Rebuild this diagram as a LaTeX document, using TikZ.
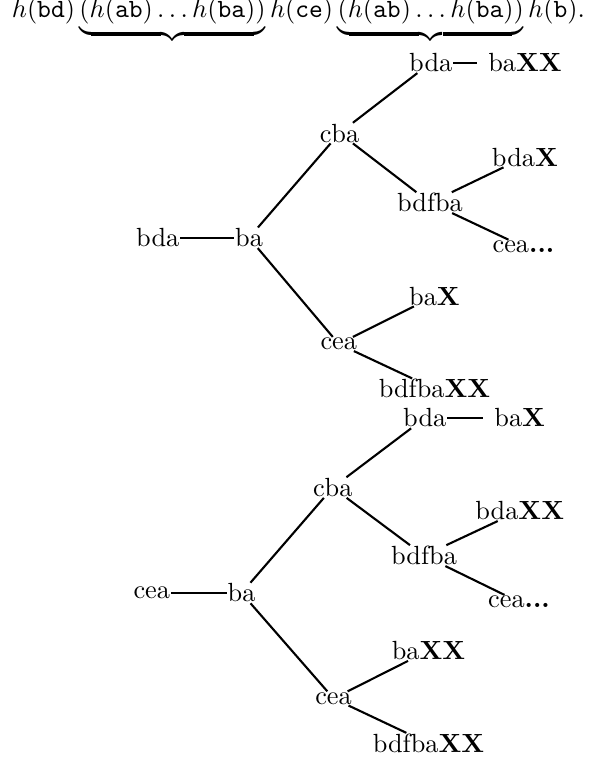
\documentclass[tikz,border=0pt]{standalone}
\usepackage{amsmath}
\begin{document}
\begin{tikzpicture}[thick]
\tikzstyle{every node}=[inner sep=0pt]
\useasboundingbox (0,0) rectangle (7.90,-10.23);
\node[anchor=base](top) at (3.99,-0.24) {$h(\mathtt{bd})\underbrace{(h(\mathtt{ab})\ldots h(\mathtt{ba}))}h(\mathtt{ce})\underbrace{(h(\mathtt{ab})\ldots h(\mathtt{ba}))}h(\mathtt{b}).$};
% upper tree
\node(u0) at (2.11,-3.18) {bda};
\node(u1) at (3.33,-3.18) {ba};
\node(u2) at (4.54,-1.78) {cba};
\node(u3) at (5.76,-0.84) {bda};
\node(u4) at (7.02,-0.84) {ba\textbf{XX}};
\node(u5) at (5.75,-2.71) {bdfba};
\node(u6) at (7.02,-2.10) {bda\textbf{X}};
\node(u7) at (7.00,-3.30) {cea\textbf{...}};
\node(u8) at (4.53,-4.60) {cea};
\node(u9) at (5.81,-3.96) {ba\textbf{X}};
\node(u10) at (5.81,-5.20) {bdfba\textbf{XX}};
\draw (u0) -- (u1);
\draw (u1) -- (u2);
\draw (u1) -- (u8);
\draw (u2) -- (u3);
\draw (u2) -- (u5);
\draw[shorten >=4pt] (u3) -- (u4);
\draw (u5) -- (u6);
\draw (u5) -- (u7);
\draw (u8) -- (u9);
\draw (u8) -- (u10);
% lower tree
\node(w0) at (2.03,-7.93) {cea};
\node(w1) at (3.23,-7.93) {ba};
\node(w2) at (4.45,-6.52) {cba};
\node(w3) at (5.68,-5.59) {bda};
\node(w4) at (6.95,-5.59) {ba\textbf{X}};
\node(w5) at (5.67,-7.43) {bdfba};
\node(w6) at (6.95,-6.83) {bda\textbf{XX}};
\node(w7) at (6.94,-8.05) {cea\textbf{...}};
\node(w8) at (4.46,-9.34) {cea};
\node(w9) at (5.73,-8.70) {ba\textbf{XX}};
\node(w10) at (5.73,-9.94) {bdfba\textbf{XX}};
\draw (w0) -- (w1);
\draw (w1) -- (w2);
\draw (w1) -- (w8);
\draw (w2) -- (w3);
\draw (w2) -- (w5);
\draw[shorten >=4pt] (w3) -- (w4);
\draw (w5) -- (w6);
\draw (w5) -- (w7);
\draw (w8) -- (w9);
\draw (w8) -- (w10);
\end{tikzpicture}
\end{document}
